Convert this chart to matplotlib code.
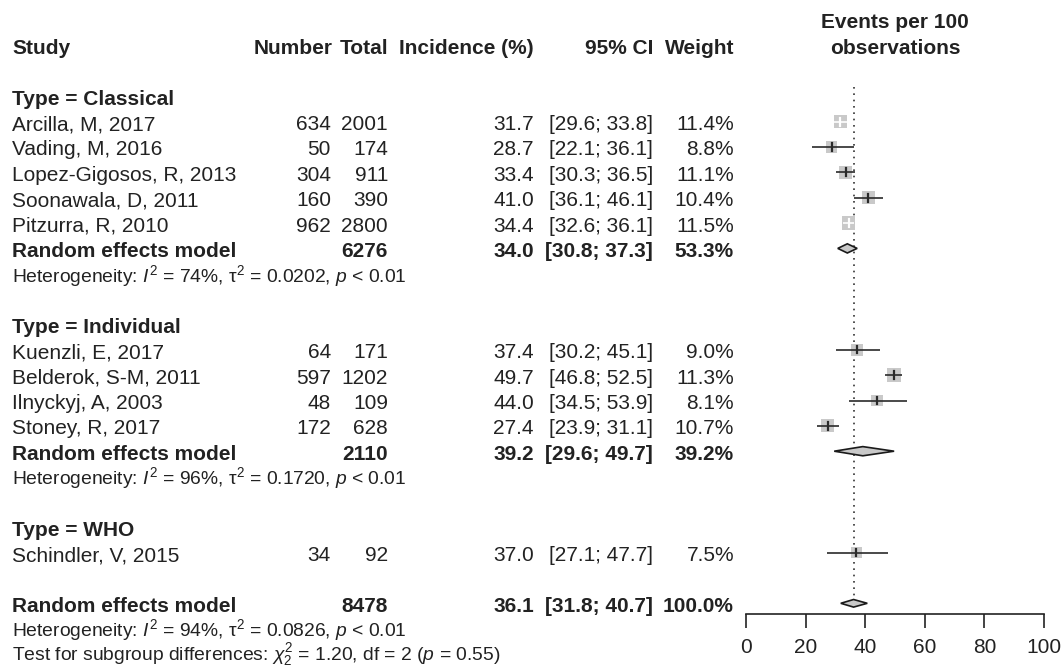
import matplotlib
matplotlib.use("Agg")
import matplotlib.pyplot as plt
from matplotlib.patches import Rectangle, Polygon

plt.rcParams['font.family'] = ['Liberation Sans', 'DejaVu Sans']
plt.rcParams['mathtext.fontset'] = 'custom'
plt.rcParams['mathtext.rm'] = 'Liberation Sans'
plt.rcParams['mathtext.it'] = 'Liberation Sans:italic'
plt.rcParams['mathtext.bf'] = 'Liberation Sans:bold'

# ---------------- data ----------------
group_names = ["Classical", "Individual", "WHO"]
studies = ["Arcilla, M, 2017", "Vading, M, 2016", "Lopez-Gigosos, R, 2013",
           "Soonawala, D, 2011", "Pitzurra, R, 2010",
           "Kuenzli, E, 2017", "Belderok, S-M, 2011", "Ilnyckyj, A, 2003", "Stoney, R, 2017",
           "Schindler, V, 2015"]
study_group = ["Classical"] * 5 + ["Individual"] * 4 + ["WHO"]
events = [634, 50, 304, 160, 962, 64, 597, 48, 172, 34]
totals = [2001, 174, 911, 390, 2800, 171, 1202, 109, 628, 92]
incidence = [31.7, 28.7, 33.4, 41.0, 34.4, 37.4, 49.7, 44.0, 27.4, 37.0]
ci_low = [29.6, 22.1, 30.3, 36.1, 32.6, 30.2, 46.8, 34.5, 23.9, 27.1]
ci_high = [33.8, 36.1, 36.5, 46.1, 36.1, 45.1, 52.5, 53.9, 31.1, 47.7]
weights = [11.4, 8.8, 11.1, 10.4, 11.5, 9.0, 11.3, 8.1, 10.7, 7.5]

sub_total = {"Classical": 6276, "Individual": 2110}
sub_est = {"Classical": 34.0, "Individual": 39.2}
sub_low = {"Classical": 30.8, "Individual": 29.6}
sub_high = {"Classical": 37.3, "Individual": 49.7}
sub_weight = {"Classical": 53.3, "Individual": 39.2}
sub_i2 = {"Classical": 74, "Individual": 96}
sub_tau2 = {"Classical": "0.0202", "Individual": "0.1720"}
sub_p = {"Classical": "< 0.01", "Individual": "< 0.01"}

overall_total = 8478
overall_est, overall_low, overall_high, overall_weight = 36.1, 31.8, 40.7, 100.0
overall_i2, overall_tau2, overall_p = 94, "0.0826", "< 0.01"
test_chi2, test_df, test_p = "1.20", 2, "0.55"

ticks = [0, 20, 40, 60, 80, 100]

# ---------------- layout ----------------
W, H = 1064, 666
fig = plt.figure(figsize=(W / 100, H / 100), dpi=100)
ax = fig.add_axes([0, 0, 1, 1])
ax.set_xlim(0, W)
ax.set_ylim(H, 0)
ax.axis('off')

AX_L, AX_R, AX_B = 746, 1044, 614
axf = fig.add_axes([AX_L / W, (H - AX_B) / H, (AX_R - AX_L) / W, AX_B / H])
axf.set_xlim(0, 100)
axf.set_ylim(AX_B, 0)
axf.patch.set_alpha(0)
pxu = (AX_R - AX_L) / 100.0  # px per data unit

TXT = "#222222"
FS = 15
FS_SMALL = 13.9
X_STUDY, X_NUM, X_TOT, X_INC, X_CI, X_W = 12, 331, 388, 534, 653, 734
STEP, Y0 = 25.35, 46.6


def ypos(r):
    return Y0 + STEP * r


def txt(x, y, s, ha='left', bold=False, size=FS):
    ax.text(x, y + 0.358 * size * 100 / 72, s, ha=ha, va='baseline', fontsize=size,
            fontweight='bold' if bold else 'normal', color=TXT)


def row_text(y, name, num, tot, est, lo, hi, w, bold=False):
    txt(X_STUDY, y, name, bold=bold)
    if num is not None:
        txt(X_NUM, y, f"{num}", ha='right', bold=bold)
    txt(X_TOT, y, f"{tot}", ha='right', bold=bold)
    txt(X_INC, y, f"{est:.1f}", ha='right', bold=bold)
    txt(X_CI, y, f"[{lo:.1f}; {hi:.1f}]", ha='right', bold=bold)
    txt(X_W, y, f"{w:.1f}%", ha='right', bold=bold)


def het_text(y, i2, tau2, p):
    txt(X_STUDY, y, r"Heterogeneity: $\mathit{I}^2$ = " + f"{i2}%, " + r"$\mathrm{\tau}^2$ = "
        + f"{tau2}, " + r"$\mathit{p}$ " + p, size=FS_SMALL)


def square(y, est, lo, hi, w):
    side = 4.0 * (w ** 0.5)
    wd = side / pxu
    axf.add_patch(Rectangle((est - wd / 2, y - side / 2), wd, side,
                            facecolor="#c9c9c9", edgecolor='none', zorder=2))
    inside = (hi - lo) < wd
    col = 'white' if inside else '#2a2a2a'
    axf.plot([lo, hi], [y, y], color=col, lw=1.2, zorder=3, solid_capstyle='butt')
    axf.plot([est, est], [y - side * 0.3, y + side * 0.3], color=col, lw=1.6, zorder=3)


def diamond(y, est, lo, hi, h=4.6):
    axf.add_patch(Polygon([(lo, y), (est, y - h), (hi, y), (est, y + h)], closed=True,
                          facecolor="#c9c9c9", edgecolor='#1a1a1a', lw=1.2, zorder=3))


# headers
txt(X_STUDY, ypos(0), "Study", bold=True)
txt(X_NUM + 2, ypos(0), "Number", ha='right', bold=True)
txt(X_TOT, ypos(0), "Total", ha='right', bold=True)
txt(X_INC, ypos(0), "Incidence (%)", ha='right', bold=True)
txt(X_CI, ypos(0), "95% CI", ha='right', bold=True)
txt(X_W, ypos(0), "Weight", ha='right', bold=True)
cx = (AX_L + AX_R) / 2
txt(cx, 21, "Events per 100", ha='center', bold=True)
txt(cx, ypos(0), "observations", ha='center', bold=True)

r = 2
for g in group_names:
    txt(X_STUDY, ypos(r), f"Type = {g}", bold=True)
    r += 1
    idx = [i for i, sg in enumerate(study_group) if sg == g]
    for i in idx:
        y = ypos(r)
        row_text(y, studies[i], events[i], totals[i], incidence[i], ci_low[i], ci_high[i], weights[i])
        square(y - 1, incidence[i], ci_low[i], ci_high[i], weights[i])
        r += 1
    if len(idx) > 1:
        y = ypos(r)
        row_text(y, "Random effects model", None, sub_total[g], sub_est[g], sub_low[g],
                 sub_high[g], sub_weight[g], bold=True)
        diamond(y - 1, sub_est[g], sub_low[g], sub_high[g])
        het_text(ypos(r + 1), sub_i2[g], sub_tau2[g], sub_p[g])
        r += 2
    r += 1

y = ypos(r)
row_text(y, "Random effects model", None, overall_total, overall_est, overall_low,
         overall_high, overall_weight, bold=True)
diamond(y - 1, overall_est, overall_low, overall_high, h=3.8)
het_text(ypos(r + 1) - 0.5, overall_i2, overall_tau2, overall_p)
txt(X_STUDY, ypos(r + 1) + 23.5, r"Test for subgroup differences: $\chi^2_2$ = " + f"{test_chi2}, df = {test_df} ("
    + r"$\mathit{p}$ = " + f"{test_p})", size=FS_SMALL)

# reference line
axf.plot([overall_est, overall_est], [87, y], color='#333333', lw=1.2,
         linestyle=(0, (1, 2.8)), zorder=1)

# axis
for s in ['left', 'right', 'top']:
    axf.spines[s].set_visible(False)
axf.spines['bottom'].set_linewidth(1.2)
axf.spines['bottom'].set_color('#222222')
axf.set_yticks([])
axf.set_xticks(ticks)
axf.set_xticklabels([str(t) for t in ticks])
axf.tick_params(axis='x', length=10, width=1.2, colors='#222222', labelsize=15, pad=7.5,
                labelcolor=TXT)

fig.savefig("out.png", dpi=100)
